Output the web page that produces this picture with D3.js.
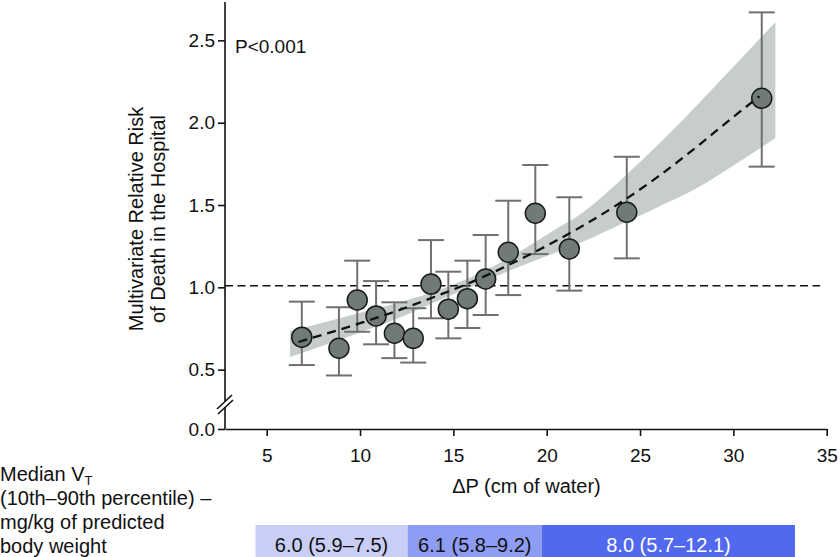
<!DOCTYPE html>
<html><head><meta charset="utf-8">
<script src="https://cdn.jsdelivr.net/npm/d3@7"></script>
<style>
html,body{margin:0;padding:0;background:#fff;}
svg{display:block;font-family:"Liberation Sans",Arial,Helvetica,sans-serif;}
</style></head><body>
<svg id="chart" width="840" height="557"></svg>
<script>
// ---- data ----
const deltaP   = [6.88, 8.87, 9.85, 10.86, 11.84, 12.85, 13.80, 14.73, 15.75, 16.73, 17.94, 19.39, 21.21, 24.29, 31.52];
const riskMid  = [0.697, 0.630, 0.923, 0.826, 0.721, 0.690, 1.020, 0.867, 0.931, 1.051, 1.213, 1.450, 1.233, 1.456, 2.148];
const riskLow  = [0.528, 0.451, 0.730, 0.654, 0.570, 0.543, 0.812, 0.690, 0.753, 0.832, 0.953, 1.202, 0.980, 1.176, 1.733];
const riskHigh = [0.913, 0.879, 1.162, 1.038, 0.909, 0.873, 1.287, 1.095, 1.162, 1.318, 1.526, 1.743, 1.547, 1.793, 2.670];

const fitX = [6.7, 8, 10, 12, 14, 16, 18, 20, 22, 24, 26, 28, 30, 31.4];
const fitY = [0.668, 0.712, 0.782, 0.858, 0.943, 1.033, 1.138, 1.252, 1.378, 1.518, 1.675, 1.850, 2.035, 2.160];

const bandX  = [6.25, 8, 10, 12, 14, 16, 18, 20, 22, 24, 26, 28, 30, 32.25];
const bandHi = [0.735, 0.785, 0.845, 0.905, 0.975, 1.065, 1.180, 1.320, 1.460, 1.655, 1.870, 2.100, 2.340, 2.610];
const bandLo = [0.577, 0.645, 0.725, 0.810, 0.910, 1.005, 1.100, 1.190, 1.280, 1.385, 1.490, 1.600, 1.740, 1.905];

const refRisk = 1.01;
const xTicks = [5, 10, 15, 20, 25, 30, 35];
const yTicks = [0, 0.5, 1.0, 1.5, 2.0, 2.5];

const vtLabels = ["6.0 (5.9\u20137.5)", "6.1 (5.8\u20139.2)", "8.0 (5.7\u201312.1)"];
const vtStart  = [4.4, 12.55, 19.75];
const vtEnd    = [12.55, 19.75, 33.3];
const vtColors = ["#c9cef7", "#8e9cf4", "#5069ee"];
const vtText   = ["#111", "#111", "#fff"];

const pText = "P<0.001";
const xTitle = "\u0394P (cm of water)";
const yTitle = ["Multivariate Relative Risk", "of Death in the Hospital"];

// ---- drawing ----
const svg = d3.select("#chart");
const FONT = '"Liberation Sans",Arial,Helvetica,sans-serif';

const x = d3.scaleLinear().domain([2.766, 35]).range([225, 826.7]);
const y = d3.scaleLinear().domain([0, 0.5, 2.733]).range([429, 369.65, 2]);

// band
const area = d3.area().x((d,i)=>x(bandX[i])).y0((d,i)=>y(bandLo[i])).y1((d,i)=>y(bandHi[i])).curve(d3.curveMonotoneX);
svg.append("path").datum(bandX).attr("d", area).attr("fill", "#c7cdcb");

// reference line
svg.append("line").attr("x1", x(2.766)).attr("x2", x(34.65))
  .attr("y1", y(refRisk)).attr("y2", y(refRisk))
  .attr("stroke", "#111").attr("stroke-width", 1.5).attr("stroke-dasharray", "8,4.5");

// error bars
const eb = svg.append("g").attr("stroke", "#707070").attr("stroke-width", 2).attr("fill", "none");
deltaP.forEach((d, i) => {
  const cx = x(d);
  eb.append("line").attr("x1", cx).attr("x2", cx).attr("y1", y(riskLow[i])).attr("y2", y(riskHigh[i]));
  eb.append("line").attr("x1", cx-13).attr("x2", cx+13).attr("y1", y(riskLow[i])).attr("y2", y(riskLow[i]));
  eb.append("line").attr("x1", cx-13).attr("x2", cx+13).attr("y1", y(riskHigh[i])).attr("y2", y(riskHigh[i]));
});

// points
svg.append("g").selectAll("circle").data(deltaP).join("circle")
  .attr("cx", d => x(d)).attr("cy", (d,i) => y(riskMid[i])).attr("r", 10)
  .attr("fill", "#6f7a79").attr("stroke", "#1a1a1a").attr("stroke-width", 1.5);

// trend line
const line = d3.line().x((d,i)=>x(fitX[i])).y((d,i)=>y(fitY[i])).curve(d3.curveMonotoneX);
svg.append("path").datum(fitX).attr("d", line).attr("fill", "none")
  .attr("stroke", "#111").attr("stroke-width", 2.3).attr("stroke-dasharray", "9,6");

// axes
const xAxis = svg.append("g").attr("transform", "translate(0,429)")
  .call(d3.axisBottom(x).tickValues(xTicks).tickSize(7).tickPadding(13).tickSizeOuter(0));
const yAxis = svg.append("g").attr("transform", "translate(225,0)")
  .call(d3.axisLeft(y).tickValues(yTicks).tickFormat(d3.format(".1f")).tickSize(7).tickPadding(3));
yAxis.select(".domain").remove();
[xAxis, yAxis].forEach(g => {
  g.attr("font-family", FONT).attr("font-size", 19);
  g.selectAll("text").attr("fill", "#111");
  g.selectAll("line,path").attr("stroke", "#111").attr("stroke-width", 1.6);
});
// broken y axis line
const yl = svg.append("g").attr("stroke", "#111").attr("stroke-width", 1.6);
yl.append("line").attr("x1", 225).attr("x2", 225).attr("y1", y(2.733)).attr("y2", 401);
yl.append("line").attr("x1", 225).attr("x2", 225).attr("y1", 407).attr("y2", 429);
yl.append("line").attr("x1", 217).attr("x2", 232).attr("y1", 409).attr("y2", 395);
yl.append("line").attr("x1", 218).attr("x2", 233).attr("y1", 414).attr("y2", 400);

// titles
svg.append("text").attr("x", 235).attr("y", 53).attr("font-size", 19).attr("font-family", FONT).attr("fill", "#111").text(pText);
svg.append("text").attr("x", 526.5).attr("y", 493).attr("text-anchor", "middle").attr("font-size", 20).attr("font-family", FONT).attr("fill", "#111").text(xTitle);
const yt = svg.append("text").attr("transform", "translate(143,219) rotate(-90)").attr("text-anchor", "middle")
  .attr("font-size", 20).attr("font-family", FONT).attr("fill", "#111");
yt.append("tspan").attr("x", 0).attr("dy", 0).text(yTitle[0]);
yt.append("tspan").attr("x", 0).attr("dy", 22).text(yTitle[1]);

// left legend text
const lt = svg.append("text").attr("font-size", 20).attr("font-family", FONT).attr("fill", "#111");
lt.append("tspan").attr("x", 0).attr("y", 481).text("Median V");
lt.append("tspan").attr("dy", 4).attr("font-size", 13).text("T");
lt.append("tspan").attr("x", 0).attr("y", 505).text("(10th\u201390th percentile) \u2013");
lt.append("tspan").attr("x", 0).attr("y", 529).text("mg/kg of predicted");
lt.append("tspan").attr("x", 0).attr("y", 553).text("body weight");

// VT bar
const bar = svg.append("g");
vtLabels.forEach((t, i) => {
  bar.append("rect").attr("x", x(vtStart[i])).attr("width", x(vtEnd[i]) - x(vtStart[i]))
    .attr("y", 525).attr("height", 40).attr("fill", vtColors[i]);
  bar.append("text").attr("x", (x(vtStart[i]) + x(vtEnd[i]))/2).attr("y", 552)
    .attr("text-anchor", "middle").attr("font-size", 20).attr("font-family", FONT)
    .attr("fill", vtText[i]).text(t);
});
</script>
</body></html>
